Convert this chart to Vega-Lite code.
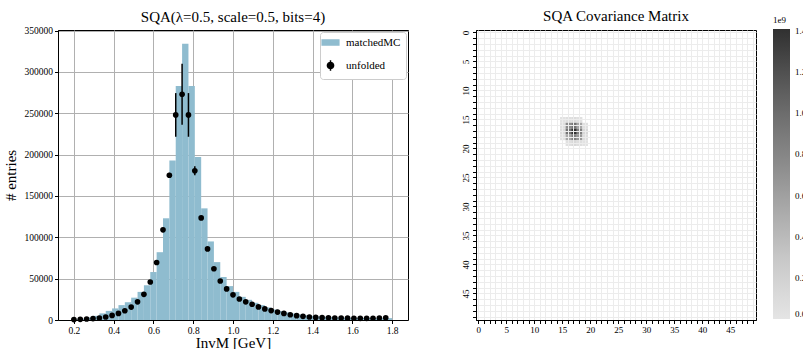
{
  "$schema": "https://vega.github.io/schema/vega-lite/v6.json",
  "background": "white",
  "padding": {"left": 2, "top": 8, "right": 0, "bottom": 0},
  "spacing": 51,
  "config": {
    "font": "Liberation Serif",
    "view": {"stroke": "black", "strokeWidth": 1},
    "axis": {
      "labelFont": "Liberation Serif",
      "titleFont": "Liberation Serif",
      "labelColor": "black",
      "titleColor": "black",
      "tickColor": "black",
      "domainColor": "black",
      "labelFontSize": 9.5,
      "titleFontSize": 15,
      "titleFontWeight": "normal",
      "tickSize": 3.5,
      "labelPadding": 2
    },
    "title": {"font": "Liberation Serif", "fontSize": 15, "fontWeight": "normal", "color": "black", "offset": 1, "frame": "group"}
  },
  "resolve": {"scale": {"color": "independent"}, "legend": {"color": "independent"}},
  "hconcat": [
    {
      "width": 350,
      "height": 290,
      "title": "SQA(λ=0.5, scale=0.5, bits=4)",
      "data": {
        "values": [
          {"lo": 0.2, "hi": 0.232, "mc": 600, "unf": 500, "err": 0},
          {"lo": 0.232, "hi": 0.264, "mc": 1500, "unf": 800, "err": 0},
          {"lo": 0.264, "hi": 0.296, "mc": 3000, "unf": 1200, "err": 0},
          {"lo": 0.296, "hi": 0.328, "mc": 5000, "unf": 1700, "err": 0},
          {"lo": 0.328, "hi": 0.36, "mc": 8000, "unf": 2400, "err": 0},
          {"lo": 0.36, "hi": 0.392, "mc": 11000, "unf": 3600, "err": 0},
          {"lo": 0.392, "hi": 0.424, "mc": 14000, "unf": 5500, "err": 0},
          {"lo": 0.424, "hi": 0.456, "mc": 18000, "unf": 8000, "err": 0},
          {"lo": 0.456, "hi": 0.488, "mc": 21500, "unf": 11200, "err": 0},
          {"lo": 0.488, "hi": 0.52, "mc": 27000, "unf": 15600, "err": 0},
          {"lo": 0.52, "hi": 0.552, "mc": 34000, "unf": 22000, "err": 0},
          {"lo": 0.552, "hi": 0.584, "mc": 42000, "unf": 31000, "err": 0},
          {"lo": 0.584, "hi": 0.616, "mc": 58000, "unf": 46000, "err": 0},
          {"lo": 0.616, "hi": 0.648, "mc": 82000, "unf": 69500, "err": 0},
          {"lo": 0.648, "hi": 0.68, "mc": 123000, "unf": 109000, "err": 1500},
          {"lo": 0.68, "hi": 0.712, "mc": 193000, "unf": 175000, "err": 3000},
          {"lo": 0.712, "hi": 0.744, "mc": 283000, "unf": 248000, "err": 26400},
          {"lo": 0.744, "hi": 0.776, "mc": 334000, "unf": 273000, "err": 37000},
          {"lo": 0.776, "hi": 0.808, "mc": 283000, "unf": 248000, "err": 26400},
          {"lo": 0.808, "hi": 0.84, "mc": 197000, "unf": 180500, "err": 5400},
          {"lo": 0.84, "hi": 0.872, "mc": 135000, "unf": 123500, "err": 1500},
          {"lo": 0.872, "hi": 0.904, "mc": 95000, "unf": 86000, "err": 0},
          {"lo": 0.904, "hi": 0.936, "mc": 70000, "unf": 62000, "err": 0},
          {"lo": 0.936, "hi": 0.968, "mc": 52000, "unf": 47200, "err": 0},
          {"lo": 0.968, "hi": 1.0, "mc": 41000, "unf": 37600, "err": 0},
          {"lo": 1.0, "hi": 1.032, "mc": 34000, "unf": 30400, "err": 0},
          {"lo": 1.032, "hi": 1.064, "mc": 28000, "unf": 25400, "err": 0},
          {"lo": 1.064, "hi": 1.096, "mc": 24400, "unf": 22000, "err": 0},
          {"lo": 1.096, "hi": 1.128, "mc": 20800, "unf": 19000, "err": 0},
          {"lo": 1.128, "hi": 1.16, "mc": 18000, "unf": 15800, "err": 0},
          {"lo": 1.16, "hi": 1.192, "mc": 15200, "unf": 13400, "err": 0},
          {"lo": 1.192, "hi": 1.224, "mc": 12700, "unf": 11400, "err": 0},
          {"lo": 1.224, "hi": 1.256, "mc": 10800, "unf": 9600, "err": 0},
          {"lo": 1.256, "hi": 1.288, "mc": 9200, "unf": 8000, "err": 0},
          {"lo": 1.288, "hi": 1.32, "mc": 7800, "unf": 6400, "err": 0},
          {"lo": 1.32, "hi": 1.352, "mc": 6600, "unf": 5200, "err": 0},
          {"lo": 1.352, "hi": 1.384, "mc": 5700, "unf": 4400, "err": 0},
          {"lo": 1.384, "hi": 1.416, "mc": 5000, "unf": 3600, "err": 0},
          {"lo": 1.416, "hi": 1.448, "mc": 4400, "unf": 3100, "err": 0},
          {"lo": 1.448, "hi": 1.48, "mc": 3900, "unf": 2800, "err": 0},
          {"lo": 1.48, "hi": 1.512, "mc": 3500, "unf": 2600, "err": 0},
          {"lo": 1.512, "hi": 1.544, "mc": 3200, "unf": 2400, "err": 0},
          {"lo": 1.544, "hi": 1.576, "mc": 3000, "unf": 2300, "err": 0},
          {"lo": 1.576, "hi": 1.608, "mc": 2800, "unf": 2200, "err": 0},
          {"lo": 1.608, "hi": 1.64, "mc": 2600, "unf": 2100, "err": 0},
          {"lo": 1.64, "hi": 1.672, "mc": 2500, "unf": 2000, "err": 0},
          {"lo": 1.672, "hi": 1.704, "mc": 2400, "unf": 2000, "err": 0},
          {"lo": 1.704, "hi": 1.736, "mc": 2300, "unf": 2100, "err": 0},
          {"lo": 1.736, "hi": 1.768, "mc": 2300, "unf": 2400, "err": 0},
          {"lo": 1.768, "hi": 1.8, "mc": 2300, "unf": 2700, "err": 0}
        ]
      },
      "layer": [
        {
          "mark": {"type": "rect"},
          "encoding": {
            "x": {
              "field": "lo",
              "type": "quantitative",
              "title": "InvM [GeV]",
              "scale": {"domain": [0.12, 1.88], "nice": false, "zero": false},
              "axis": {
                "values": [0.2, 0.4, 0.6, 0.8, 1.0, 1.2, 1.4, 1.6, 1.8],
                "format": ".1f",
                "grid": true,
                "gridColor": "#b0b0b0",
                "gridWidth": 1,
                "titlePadding": 0
              }
            },
            "x2": {"field": "hi"},
            "y": {
              "field": "mc",
              "type": "quantitative",
              "title": "# entries",
              "scale": {"domain": [0, 350700], "nice": false},
              "axis": {
                "values": [0, 50000, 100000, 150000, 200000, 250000, 300000, 350000],
                "format": "d",
                "grid": true,
                "gridColor": "#b0b0b0",
                "gridWidth": 1,
                "titlePadding": 6
              }
            },
            "y2": {"datum": 0},
            "color": {
              "datum": "matchedMC",
              "type": "nominal",
              "scale": {"domain": ["matchedMC", "unfolded"], "range": ["#8fbccf", "black"]},
              "legend": {
                "title": null,
                "orient": "top-right",
                "offset": 2,
                "fillColor": "white",
                "strokeColor": "#cccccc",
                "cornerRadius": 3,
                "padding": 5,
                "rowPadding": 9,
                "labelFont": "Liberation Serif",
                "labelFontSize": 11,
                "labelColor": "black",
                "labelOffset": 10,
                "symbolSize": 330,
                "encode": {
                  "symbols": {
                    "update": {
                      "shape": {"signal": "datum.value === 'unfolded' ? 'M0,-0.57V0.57M-0.34,0A0.34,0.34 0 1,1 0.34,0A0.34,0.34 0 1,1 -0.34,0Z' : 'M-1,-0.36H1V0.36H-1Z'"},
                      "fill": {"signal": "datum.value === 'unfolded' ? 'black' : '#8fbccf'"},
                      "stroke": {"signal": "datum.value === 'unfolded' ? 'black' : '#8fbccf'"},
                      "strokeWidth": {"signal": "datum.value === 'unfolded' ? 1.5 : 0"},
                      "opacity": {"value": 1}
                    }
                  }
                }
              }
            }
          }
        },
        {
          "mark": {"type": "errorbar", "color": "black", "thickness": 1.5},
          "encoding": {
            "x": {"field": "lo", "type": "quantitative", "title": "InvM [GeV]"},
            "y": {"field": "unf", "type": "quantitative", "title": "# entries"},
            "yError": {"field": "err"}
          }
        },
        {
          "mark": {"type": "point", "filled": true, "opacity": 1, "size": 32},
          "encoding": {
            "x": {"field": "lo", "type": "quantitative", "title": "InvM [GeV]"},
            "y": {"field": "unf", "type": "quantitative", "title": "# entries"},
            "color": {"datum": "unfolded", "type": "nominal"}
          }
        }
      ]
    },
    {
      "width": 280,
      "height": 290,
      "title": {"text": "SQA Covariance Matrix", "offset": -8},
      "data": {
        "values": [
          {"r": 15, "c": 15, "v": 20000000},
          {"r": 15, "c": 16, "v": 60000000},
          {"r": 15, "c": 17, "v": 90000000},
          {"r": 15, "c": 18, "v": 50000000},
          {"r": 16, "c": 15, "v": 60000000},
          {"r": 17, "c": 15, "v": 90000000},
          {"r": 18, "c": 15, "v": 40000000},
          {"r": 16, "c": 16, "v": 750000000},
          {"r": 16, "c": 17, "v": 950000000},
          {"r": 16, "c": 18, "v": 550000000},
          {"r": 17, "c": 16, "v": 950000000},
          {"r": 17, "c": 17, "v": 1400000000},
          {"r": 17, "c": 18, "v": 850000000},
          {"r": 18, "c": 16, "v": 550000000},
          {"r": 18, "c": 17, "v": 850000000},
          {"r": 18, "c": 18, "v": 650000000},
          {"r": 16, "c": 19, "v": 50000000},
          {"r": 17, "c": 19, "v": 130000000},
          {"r": 18, "c": 19, "v": 70000000},
          {"r": 19, "c": 16, "v": 50000000},
          {"r": 19, "c": 17, "v": 130000000},
          {"r": 19, "c": 18, "v": 70000000},
          {"r": 19, "c": 19, "v": 30000000}
        ]
      },
      "mark": {"type": "rect", "opacity": 0.92},
      "encoding": {
        "x": {
          "field": "c",
          "type": "ordinal",
          "title": null,
          "scale": {
            "domain": [0,1,2,3,4,5,6,7,8,9,10,11,12,13,14,15,16,17,18,19,20,21,22,23,24,25,26,27,28,29,30,31,32,33,34,35,36,37,38,39,40,41,42,43,44,45,46,47,48,49],
            "paddingInner": 0,
            "paddingOuter": 0
          },
          "axis": {
            "labelAngle": 0,
            "bandPosition": 0.5,
            "grid": true,
            "gridColor": "#ececec",
            "gridWidth": 1,
            "labelFontSize": 9,
            "labelExpr": "datum.value % 5 === 0 ? datum.label : ''",
            "encode": {"ticks": {"update": {"y2": {"signal": "datum.value % 5 === 0 ? 3.5 : 2"}}}}
          }
        },
        "y": {
          "field": "r",
          "type": "ordinal",
          "title": null,
          "scale": {
            "domain": [0,1,2,3,4,5,6,7,8,9,10,11,12,13,14,15,16,17,18,19,20,21,22,23,24,25,26,27,28,29,30,31,32,33,34,35,36,37,38,39,40,41,42,43,44,45,46,47,48,49],
            "paddingInner": 0,
            "paddingOuter": 0
          },
          "axis": {
            "labelAngle": -90,
            "labelAlign": "center",
            "labelBaseline": "bottom",
            "bandPosition": 0.5,
            "grid": true,
            "gridColor": "#ececec",
            "gridWidth": 1,
            "labelFontSize": 9,
            "labelExpr": "datum.value % 5 === 0 ? datum.label : ''",
            "encode": {"ticks": {"update": {"x2": {"signal": "datum.value % 5 === 0 ? -3.5 : -2"}}}}
          }
        },
        "color": {
          "field": "v",
          "type": "quantitative",
          "scale": {"scheme": "greys", "domain": [0, 1410000000]},
          "legend": {
            "orient": "none",
            "legendX": 297,
            "legendY": -14,
            "direction": "vertical",
            "title": "1e9",
            "titleFont": "Liberation Serif",
            "titleFontSize": 9,
            "titleFontWeight": "normal",
            "titleColor": "black",
            "titlePadding": 4,
            "gradientLength": 290,
            "gradientThickness": 17,
            "gradientStrokeWidth": 0,
            "values": [0, 200000000, 400000000, 600000000, 800000000, 1000000000, 1200000000, 1400000000],
            "labelExpr": "format(datum.value / 1e9, '.1f')",
            "labelFont": "Liberation Serif",
            "labelFontSize": 9,
            "labelColor": "black",
            "labelOffset": 5,
            "labelOverlap": false,
            "encode": {"gradient": {"update": {"opacity": {"value": 0.92}}}}
          }
        }
      }
    }
  ]
}
